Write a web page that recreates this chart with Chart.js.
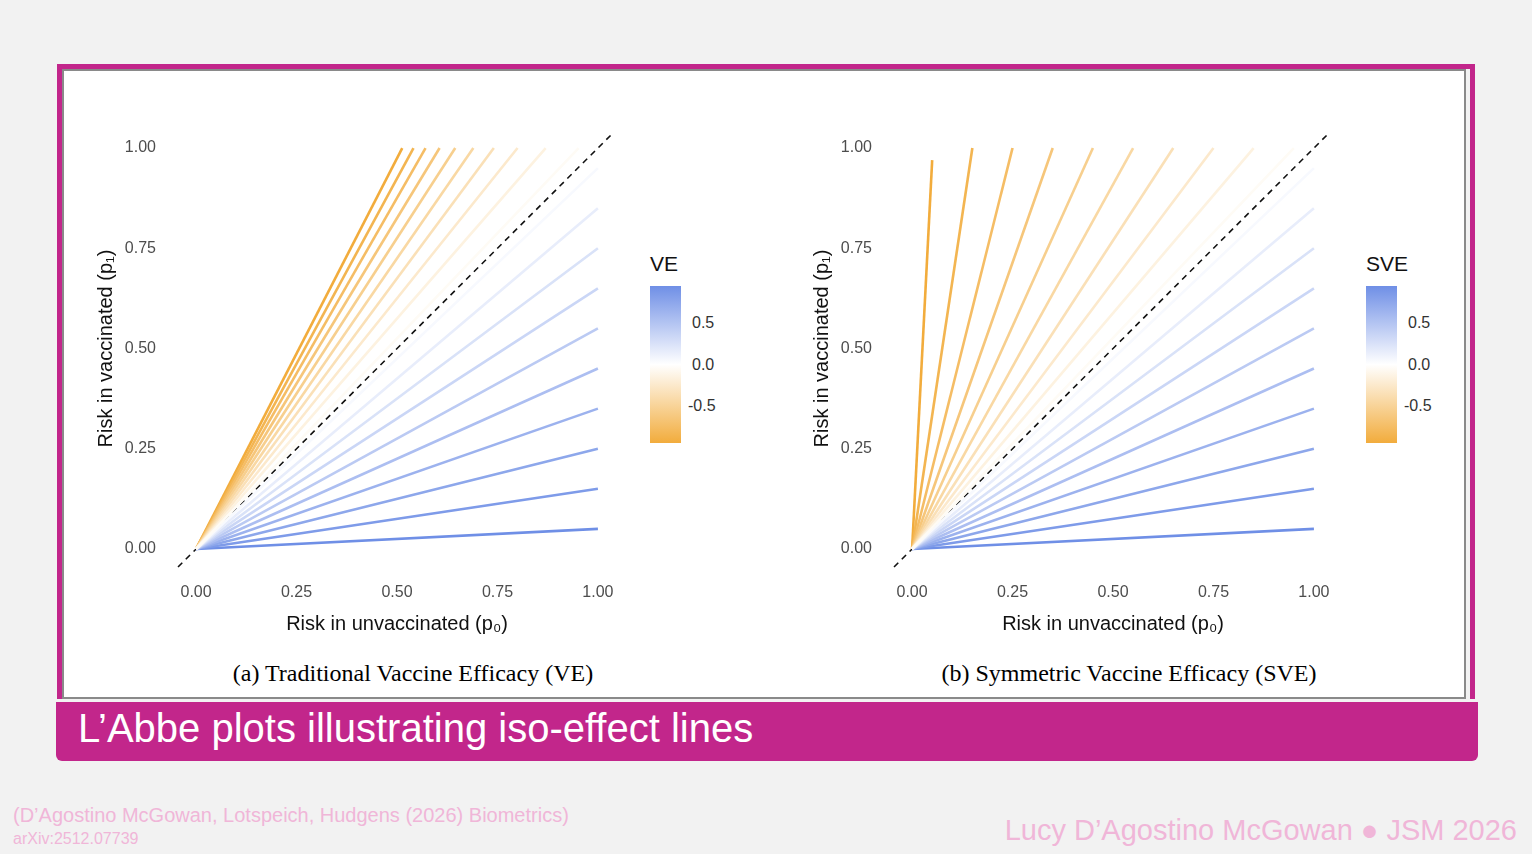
<!DOCTYPE html>
<html>
<head>
<meta charset="utf-8">
<script src="https://cdn.jsdelivr.net/npm/chart.js@4"></script>
<style>
  body { margin:0; width:1532px; height:854px; background:#f2f2f2; position:relative; overflow:hidden; font-family:"Liberation Sans", Arial, sans-serif; }
  #frame { position:absolute; left:57px; top:64px; width:1408px; height:630px; border:5px solid #c2268b; border-bottom:none; }
  #panel { position:absolute; left:62px; top:69px; width:1404px; height:630px; background:#fff; border:2px solid #8a8a8a; box-sizing:border-box; }
  #bar { position:absolute; left:56px; top:702px; width:1422px; height:59px; background:#c2268b; border-radius:0 0 6px 6px; }
  #bar span { position:absolute; left:22px; top:4px; color:#fff; font-family:"Liberation Sans Narrow","Liberation Sans",sans-serif; font-size:40px; }
  canvas { position:absolute; }
  .cap { position:absolute; top:660px; width:600px; text-align:center; font-family:"Liberation Serif",serif; font-size:24px; color:#000; }
  .cb { position:absolute; width:31px; height:157px; top:286px; background:linear-gradient(#6f8fe6,#ffffff 50%,#f2ac3c); }
  .cbt { position:absolute; top:252px; font-size:21px; color:#111; }
  .cbl { position:absolute; font-size:16px; color:#333; }
  .foot { position:absolute; color:#f0b6d8; }
</style>
</head>
<body>
<div id="frame"></div>
<div id="panel"></div>
<canvas id="c1" width="560" height="540" style="left:90px;top:100px;width:560px;height:540px"></canvas>
<canvas id="c2" width="560" height="540" style="left:806px;top:100px;width:560px;height:540px"></canvas>
<div class="cap" style="left:113px">(a) Traditional Vaccine Efficacy (VE)</div>
<div class="cap" style="left:829px">(b) Symmetric Vaccine Efficacy (SVE)</div>

<div class="cbt" style="left:650px">VE</div>
<div class="cb" style="left:650px"></div>
<div class="cbl" style="left:692px;top:314px">0.5</div>
<div class="cbl" style="left:692px;top:356px">0.0</div>
<div class="cbl" style="left:688px;top:397px">-0.5</div>

<div class="cbt" style="left:1366px">SVE</div>
<div class="cb" style="left:1366px"></div>
<div class="cbl" style="left:1408px;top:314px">0.5</div>
<div class="cbl" style="left:1408px;top:356px">0.0</div>
<div class="cbl" style="left:1404px;top:397px">-0.5</div>

<div id="bar"><span>L’Abbe plots illustrating iso-effect lines</span></div>
<div class="foot" style="left:13px;top:804px;font-size:20px">(D’Agostino McGowan, Lotspeich, Hudgens (2026) Biometrics)</div>
<div class="foot" style="left:13px;top:830px;font-size:16px">arXiv:2512.07739</div>
<div class="foot" style="right:15px;top:814px;font-size:29px">Lucy D’Agostino McGowan ● JSM 2026</div>

<script>
// effect values of each iso-effect line, with the end point
var effects = [-0.95,-0.85,-0.75,-0.65,-0.55,-0.45,-0.35,-0.25,-0.15,-0.05,0.05,0.15,0.25,0.35,0.45,0.55,0.65,0.75,0.85,0.95];
var veEndX = [0.513,0.541,0.571,0.606,0.645,0.69,0.741,0.8,0.87,0.952,1,1,1,1,1,1,1,1,1,1];
var veEndY = [1,1,1,1,1,1,1,1,1,1,0.95,0.85,0.75,0.65,0.55,0.45,0.35,0.25,0.15,0.05];
var sveEndX = [0.05,0.15,0.25,0.35,0.45,0.55,0.65,0.75,0.85,0.95,1,1,1,1,1,1,1,1,1,1];
var sveEndY = [0.97,1,1,1,1,1,1,1,1,1,0.95,0.85,0.75,0.65,0.55,0.45,0.35,0.25,0.15,0.05];
var tickVals = [0, 0.25, 0.5, 0.75, 1];

function colorFor(v) {
  var t = Math.min(Math.abs(v) / 0.95, 1);
  var c = v > 0 ? [111,143,230] : [242,172,60];
  var r = Math.round(255 + (c[0]-255)*t), g = Math.round(255 + (c[1]-255)*t), b = Math.round(255 + (c[2]-255)*t);
  return 'rgb(' + r + ',' + g + ',' + b + ')';
}

function makeChart(id, endX, endY) {
  var order = effects.map(function(v, i) { return i; }).sort(function(a, b) { return Math.abs(effects[a]) - Math.abs(effects[b]); });
  var datasets = order.map(function(i) {
    return { data: [{x:0,y:0},{x:endX[i],y:endY[i]}], borderColor: colorFor(effects[i]), borderWidth: 2.6, showLine: true, pointRadius: 0 };
  });
  datasets.push({ data: [{x:-0.045,y:-0.045},{x:1.04,y:1.04}], borderColor:'#111', borderWidth:1.6, borderDash:[6,5], showLine:true, pointRadius:0 });
  var tickFont = { family: 'Liberation Sans', size: 16 };
  new Chart(document.getElementById(id), {
    type: 'scatter',
    data: { datasets: datasets },
    options: {
      responsive: false, animation: false,
      layout: { padding: { left: 0, right: 32, top: 28, bottom: 0 } },
      plugins: { legend: { display: false }, tooltip: { enabled: false } },
      scales: {
        x: {
          min: -0.05, max: 1.05,
          grid: { display: false }, border: { display: false },
          afterBuildTicks: function(s) { s.ticks = tickVals.map(function(v) { return { value: v }; }); },
          afterFit: function(s) { s.height = 71; },
          ticks: { color: '#4d4d4d', font: tickFont, padding: 6, callback: function(v) { return v.toFixed(2); } },
          title: { display: true, text: 'Risk in unvaccinated (p₀)', color: '#111', font: { family: 'Liberation Sans', size: 20 }, padding: { top: 2 } }
        },
        y: {
          min: -0.05, max: 1.05,
          grid: { display: false }, border: { display: false },
          afterBuildTicks: function(s) { s.ticks = tickVals.map(function(v) { return { value: v }; }); },
          afterFit: function(s) { s.width = 86; },
          ticks: { color: '#4d4d4d', font: tickFont, padding: 12, callback: function(v) { return v.toFixed(2); } },
          title: { display: true, text: 'Risk in vaccinated (p₁)', color: '#111', font: { family: 'Liberation Sans', size: 20 }, padding: { bottom: 10 } }
        }
      }
    }
  });
}

makeChart('c1', veEndX, veEndY);
makeChart('c2', sveEndX, sveEndY);
</script>
</body>
</html>
